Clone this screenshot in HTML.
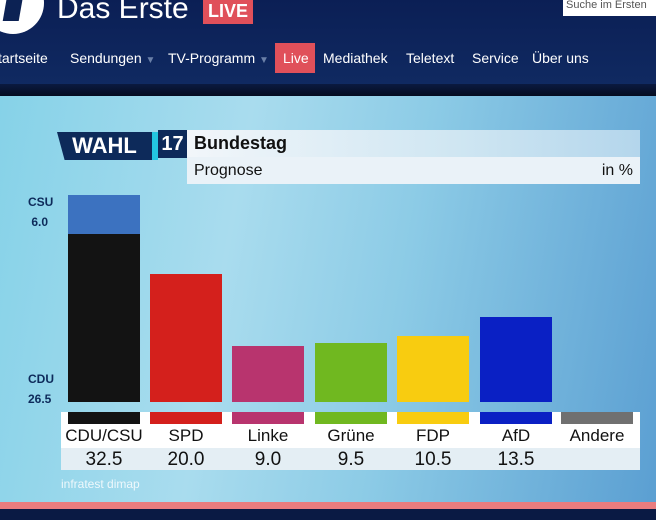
<!DOCTYPE html>
<html><head><meta charset="utf-8"><style>
*{margin:0;padding:0;box-sizing:border-box}
body{width:656px;height:520px;overflow:hidden;position:relative;background:#0c2254;font-family:"Liberation Sans",sans-serif}
.a{position:absolute}
.nav{font-size:14px;color:#fff;top:50px}
.bar{position:absolute;width:72px}
.lbl{position:absolute;width:80px;text-align:center;font-size:17px;color:#111}
</style></head><body>
<div class="a" style="left:0;top:0;width:656px;height:88px;background:linear-gradient(#0b1f55,#102a62)"></div>
<div class="a" style="left:0;top:84px;width:656px;height:12px;background:linear-gradient(#0b1a40,#050c20)"></div>
<div class="a" style="left:-18px;top:-28px;width:62px;height:62px;border-radius:50%;background:#fff"></div>
<div class="a" style="left:5px;top:-5px;width:16px;height:26px;background:#0c2254;transform:skewX(-10deg)"></div>
<div class="a" style="left:57px;top:-8px;font-size:30px;color:#fff">Das Erste</div>
<div class="a" style="left:203px;top:0;width:50px;height:24px;background:#e0505a;color:#fff;font-size:18px;font-weight:bold;text-align:center;line-height:22px">LIVE</div>
<div class="a" style="left:563px;top:0;width:93px;height:16px;background:#fff;color:#555;font-size:11px;padding-left:3px;line-height:10px">Suche im Ersten</div>
<div class="a" style="left:275px;top:43px;width:40px;height:30px;background:#e0505a"></div>
<div class="a nav" style="left:-2px">tartseite</div>
<div class="a nav" style="left:70px">Sendungen <span style="color:#6a80a8;font-size:10px">▼</span></div>
<div class="a nav" style="left:168px">TV-Programm <span style="color:#6a80a8;font-size:10px">▼</span></div>
<div class="a nav" style="left:283px">Live</div>
<div class="a nav" style="left:323px">Mediathek</div>
<div class="a nav" style="left:406px">Teletext</div>
<div class="a nav" style="left:472px">Service</div>
<div class="a nav" style="left:532px">Über uns</div>
<div class="a" style="left:0;top:96px;width:656px;height:406px;background:linear-gradient(100deg,#86d2e8 0%,#a9dcee 35%,#8ccbe6 60%,#5b9fd2 100%)"></div>
<div class="a" style="left:0;top:502px;width:656px;height:7px;background:#ea7c7e"></div>
<div class="a" style="left:0;top:509px;width:656px;height:11px;background:#0a1a44"></div>
<div class="a" style="left:57px;top:132px;width:95px;height:28px;background:#0d2a5a;color:#fff;font-weight:bold;font-size:22px;text-align:center;line-height:28px;clip-path:polygon(0 0,100% 0,100% 100%,8% 100%)">WAHL</div>
<div class="a" style="left:152px;top:132px;width:6px;height:28px;background:#23c6e0"></div>
<div class="a" style="left:158px;top:130px;width:29px;height:28px;background:#0d2a5a;color:#fff;font-weight:bold;font-size:20px;text-align:center;line-height:28px">17</div>
<div class="a" style="left:187px;top:130px;width:453px;height:27px;background:linear-gradient(90deg,#f2f6fa,#cfe6f2 60%,#b4d6ec);font-weight:bold;font-size:18px;color:#111;padding-left:7px;line-height:27px">Bundestag</div>
<div class="a" style="left:187px;top:157px;width:453px;height:27px;background:#eaf2f8;font-size:16px;color:#111;padding:0 7px;line-height:27px">Prognose<span style="float:right">in %</span></div>
<div class="a" style="left:28px;top:192px;font-size:12px;color:#0d2a5a;font-weight:bold;line-height:20px">CSU<br>&nbsp;6.0</div>
<div class="a" style="left:28px;top:369px;font-size:12px;color:#0d2a5a;font-weight:bold;line-height:20px">CDU<br>26.5</div>
<div class="bar" style="left:68px;top:195px;height:39px;background:#3c72c0"></div>
<div class="bar" style="left:68px;top:234px;height:168px;background:#131313"></div>
<div class="bar" style="left:150px;top:274px;height:128px;background:#d4201c"></div>
<div class="bar" style="left:232px;top:346px;height:56px;background:#b8346e"></div>
<div class="bar" style="left:315px;top:343px;height:59px;background:#70b820"></div>
<div class="bar" style="left:397px;top:336px;height:66px;background:#f8cc10"></div>
<div class="bar" style="left:480px;top:317px;height:85px;background:#0a20c4"></div>
<div class="a" style="left:61px;top:412px;width:579px;height:36px;background:#fff"></div>
<div class="a" style="left:61px;top:448px;width:579px;height:22px;background:#e4eef4"></div>
<div class="bar" style="left:68px;top:412px;height:12px;background:#131313"></div>
<div class="bar" style="left:150px;top:412px;height:12px;background:#d4201c"></div>
<div class="bar" style="left:232px;top:412px;height:12px;background:#b8346e"></div>
<div class="bar" style="left:315px;top:412px;height:12px;background:#70b820"></div>
<div class="bar" style="left:397px;top:412px;height:12px;background:#f8cc10"></div>
<div class="bar" style="left:480px;top:412px;height:12px;background:#0a20c4"></div>
<div class="bar" style="left:561px;top:412px;height:12px;background:#707070"></div>
<div class="lbl" style="left:64px;top:426px">CDU/CSU</div>
<div class="lbl" style="left:146px;top:426px">SPD</div>
<div class="lbl" style="left:228px;top:426px">Linke</div>
<div class="lbl" style="left:311px;top:426px">Grüne</div>
<div class="lbl" style="left:393px;top:426px">FDP</div>
<div class="lbl" style="left:476px;top:426px">AfD</div>
<div class="lbl" style="left:557px;top:426px">Andere</div>
<div class="lbl" style="left:64px;top:449px;font-size:19px">32.5</div>
<div class="lbl" style="left:146px;top:449px;font-size:19px">20.0</div>
<div class="lbl" style="left:228px;top:449px;font-size:19px">9.0</div>
<div class="lbl" style="left:311px;top:449px;font-size:19px">9.5</div>
<div class="lbl" style="left:393px;top:449px;font-size:19px">10.5</div>
<div class="lbl" style="left:476px;top:449px;font-size:19px">13.5</div>
<div class="a" style="left:61px;top:477px;font-size:12px;color:#eef8fc">infratest dimap</div>
</body></html>
